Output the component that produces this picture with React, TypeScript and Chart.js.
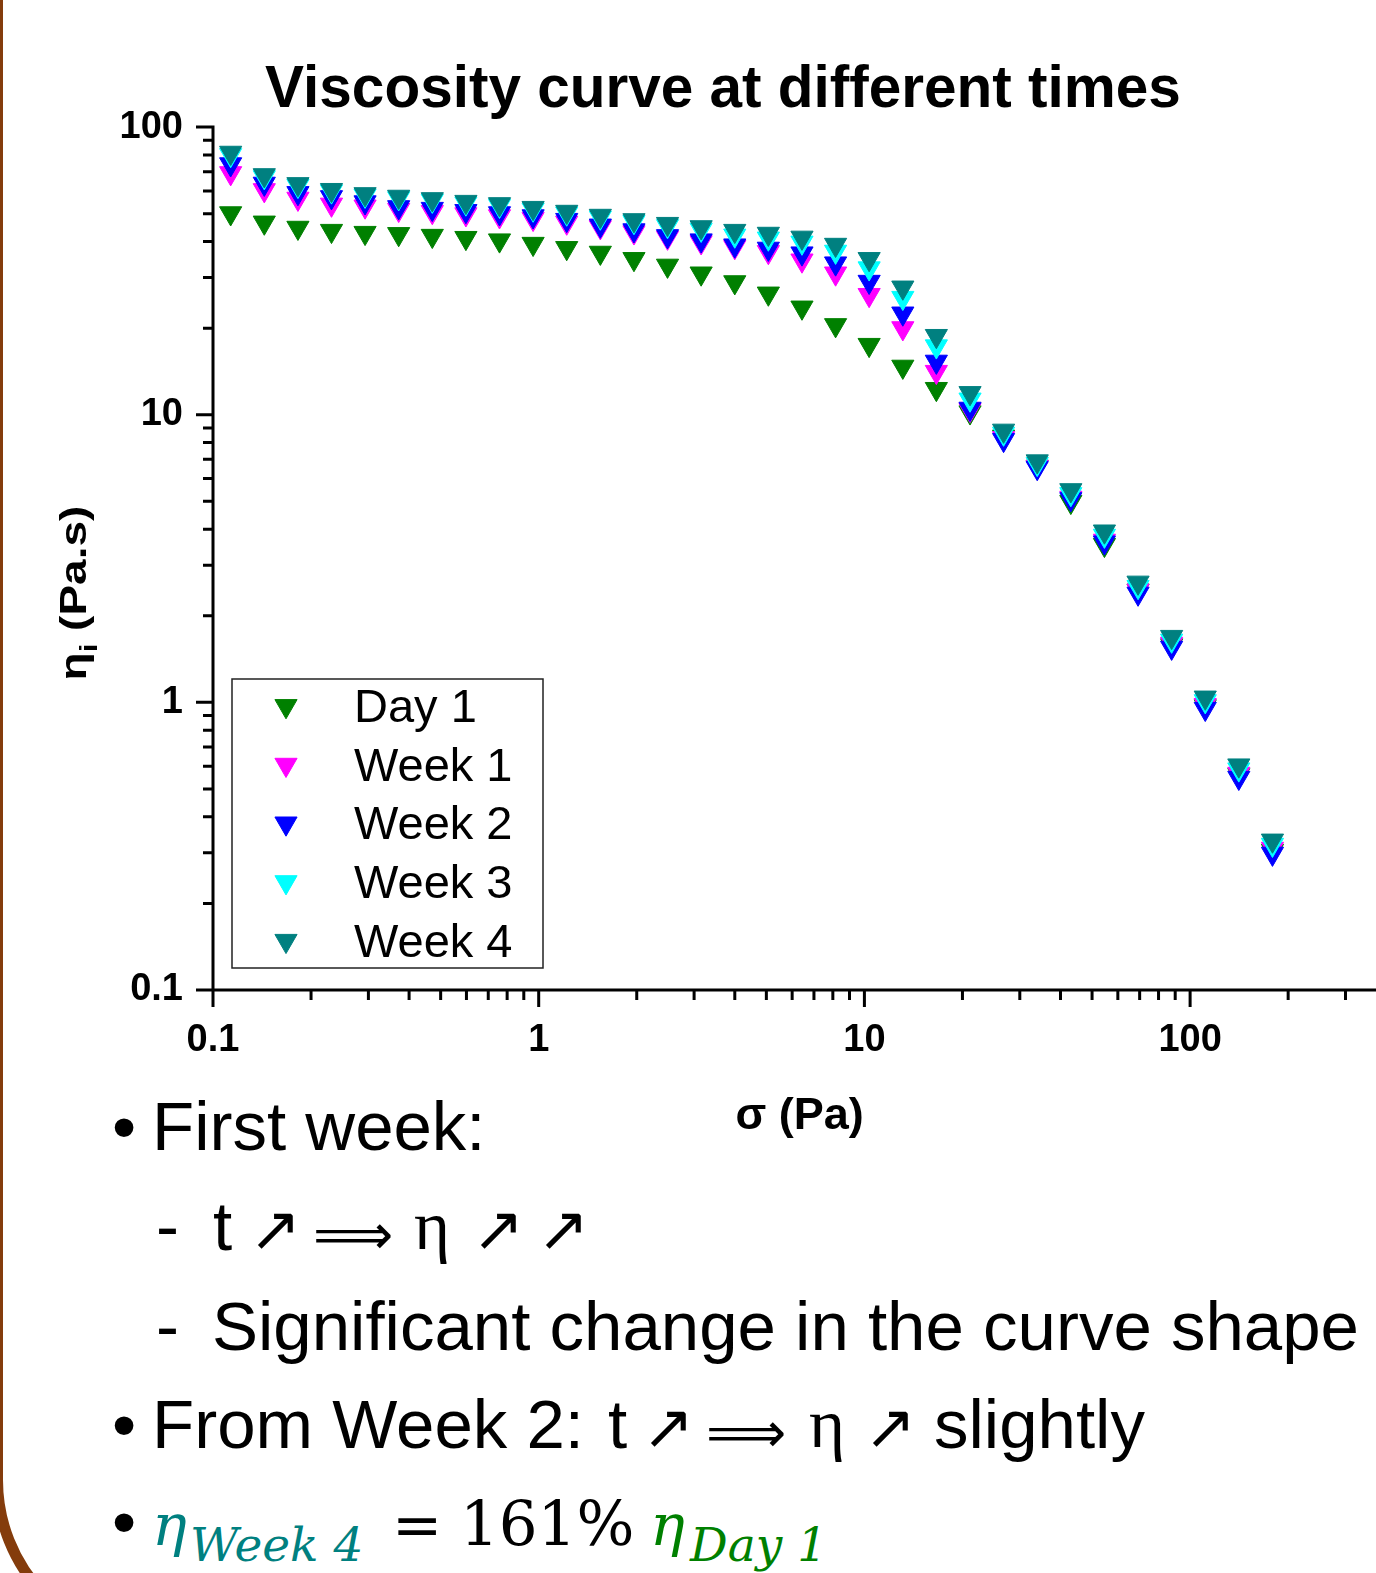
import React, { useEffect, useRef } from 'react';
import Chart from 'chart.js/auto';

const SANS = "'Liberation Sans', Arial, Helvetica, sans-serif";
const SERIF = "'Liberation Serif', 'Times New Roman', serif";
const MATH = "'DejaVu Serif', 'Liberation Serif', serif";
const SYM = "'DejaVu Sans', sans-serif";

const chartTitle = 'Viscosity curve at different times';
const xAxisTitle = 'σ (Pa)';
const yTitleMain = 'η';
const yTitleSub = 'i';
const yTitleUnit = ' (Pa.s)';

const seriesLabels = ['Day 1', 'Week 1', 'Week 2', 'Week 3', 'Week 4'];
const seriesColors = ['#008000', '#FF00FF', '#0000FF', '#00FFFF', '#008080'];

// shear stress sigma (Pa)
const stress = [0.1133, 0.1437, 0.1823, 0.2311, 0.293, 0.3716, 0.4713, 0.5977, 0.758, 0.9612, 1.219, 1.546, 1.961, 2.486, 3.153, 3.999, 5.071, 6.432, 8.157, 10.34, 13.12, 16.63, 21.1, 26.75, 33.93, 43.03, 54.57, 69.21, 87.76, 111.3, 141.1, 179.0];

// viscosity (Pa.s)
const day1 = [50.2, 46.6, 44.7, 43.6, 42.9, 42.5, 41.9, 41.2, 40.4, 39.3, 38.0, 36.6, 34.8, 33.0, 31.0, 28.9, 26.4, 23.6, 20.5, 17.5, 14.7, 12.3, 10.2, 8.4, 6.6, 4.98, 3.53, 2.45, 1.58, 0.97, 0.56, 0.305];
const week1 = [69.2, 60.4, 56.4, 53.8, 53.0, 51.6, 50.7, 49.8, 49.0, 48.0, 46.6, 44.9, 43.1, 41.3, 39.8, 38.3, 36.8, 34.4, 31.0, 26.1, 20.0, 14.1, 10.4, 8.3, 6.6, 5.15, 3.65, 2.45, 1.6, 0.98, 0.565, 0.31];
const week2 = [74.3, 63.6, 59.0, 57.1, 54.8, 52.7, 52.0, 51.1, 50.2, 49.0, 47.6, 45.5, 43.8, 41.8, 40.4, 38.8, 37.8, 36.4, 33.6, 29.0, 22.5, 15.3, 10.5, 8.18, 6.53, 5.09, 3.6, 2.39, 1.55, 0.95, 0.547, 0.298];
const week3 = [80.0, 67.0, 62.5, 59.8, 57.8, 56.6, 55.5, 54.3, 53.3, 51.7, 50.1, 48.5, 46.8, 45.3, 44.0, 42.0, 41.0, 39.7, 36.9, 32.3, 25.5, 17.3, 11.3, 8.6, 6.75, 5.3, 3.8, 2.52, 1.64, 1.01, 0.585, 0.32];
const week4 = [81.5, 68.1, 63.4, 60.5, 58.5, 57.3, 56.2, 55.0, 54.0, 52.4, 50.8, 49.2, 47.5, 46.1, 44.9, 43.6, 42.6, 41.3, 39.0, 34.8, 27.7, 18.8, 11.9, 8.81, 6.89, 5.47, 3.93, 2.61, 1.69, 1.04, 0.604, 0.331];

const seriesValues = [day1, week1, week2, week3, week4];

const xMajorTicks = [0.1, 1, 10, 100];
const xTickLabels = ['0.1', '1', '10', '100'];
const xMinorTicks = [0.2, 0.3, 0.4, 0.5, 0.6, 0.7, 0.8, 0.9, 2, 3, 4, 5, 6, 7, 8, 9, 20, 30, 40, 50, 60, 70, 80, 90, 200, 300, 400];
const yMajorTicks = [0.1, 1, 10, 100];
const yTickLabels = ['0.1', '1', '10', '100'];
const yMinorTicks = [0.2, 0.3, 0.4, 0.5, 0.6, 0.7, 0.8, 0.9, 2, 3, 4, 5, 6, 7, 8, 9, 20, 30, 40, 50, 60, 70, 80, 90];

const MARKER_R = 12.8;

function drawDownTriangle(ctx: CanvasRenderingContext2D, cx: number, cy: number, r: number, color: string) {
  const h = (r * Math.sqrt(3)) / 2;
  ctx.beginPath();
  ctx.moveTo(cx, cy + r);
  ctx.lineTo(cx - h, cy - r / 2);
  ctx.lineTo(cx + h, cy - r / 2);
  ctx.closePath();
  ctx.fillStyle = color;
  ctx.fill();
  ctx.lineWidth = 1;
  ctx.strokeStyle = color;
  ctx.stroke();
}

const axesPlugin = {
  id: 'originAxes',
  afterDraw(chart: any) {
    const { ctx, chartArea: a, scales } = chart;
    const xs = scales.x;
    const ys = scales.y;
    ctx.save();
    ctx.strokeStyle = '#000';
    ctx.lineWidth = 3;
    ctx.lineCap = 'butt';
    ctx.beginPath();
    ctx.moveTo(a.left, a.top - 1.5);
    ctx.lineTo(a.left, a.bottom + 1.5);
    ctx.moveTo(a.left - 1.5, a.bottom);
    ctx.lineTo(a.right, a.bottom);
    yMajorTicks.forEach((v) => {
      const p = ys.getPixelForValue(v);
      ctx.moveTo(a.left - 17, p);
      ctx.lineTo(a.left, p);
    });
    yMinorTicks.forEach((v) => {
      const p = ys.getPixelForValue(v);
      ctx.moveTo(a.left - 10, p);
      ctx.lineTo(a.left, p);
    });
    xMajorTicks.forEach((v) => {
      const p = xs.getPixelForValue(v);
      ctx.moveTo(p, a.bottom);
      ctx.lineTo(p, a.bottom + 17);
    });
    xMinorTicks.forEach((v) => {
      const p = xs.getPixelForValue(v);
      ctx.moveTo(p, a.bottom);
      ctx.lineTo(p, a.bottom + 10);
    });
    ctx.stroke();
    ctx.restore();
  },
};

const boxLegendPlugin = {
  id: 'boxLegend',
  afterDraw(chart: any) {
    const { ctx, chartArea: a } = chart;
    const x0 = a.left + 19;
    const y0 = a.bottom - 311;
    const w = 311;
    const h = 289;
    ctx.save();
    ctx.lineWidth = 1.5;
    ctx.strokeStyle = '#222';
    ctx.strokeRect(x0, y0, w, h);
    chart.data.datasets.forEach((ds: any, i: number) => {
      const cy = y0 + 27 + i * 58.7;
      drawDownTriangle(ctx, x0 + 54, cy, MARKER_R, ds.backgroundColor);
      ctx.font = `47px ${SANS}`;
      ctx.fillStyle = '#000';
      ctx.textAlign = 'left';
      ctx.textBaseline = 'middle';
      ctx.fillText(ds.label, x0 + 122, cy + 3);
    });
    ctx.restore();
  },
};

const yTitlePlugin = {
  id: 'yTitle',
  afterDraw(chart: any) {
    const { ctx } = chart;
    ctx.save();
    ctx.translate(86, 593);
    ctx.rotate(-Math.PI / 2);
    ctx.scale(1, 0.8);
    ctx.fillStyle = '#000';
    ctx.textBaseline = 'alphabetic';
    ctx.textAlign = 'left';
    const big = `bold 46px ${SANS}`;
    const small = `bold 31px ${SANS}`;
    ctx.font = big;
    const w1 = ctx.measureText(yTitleMain).width;
    const w3 = ctx.measureText(yTitleUnit).width;
    ctx.font = small;
    const w2 = ctx.measureText(yTitleSub).width;
    const total = w1 + w2 + w3;
    let x = -total / 2;
    ctx.font = big;
    ctx.fillText(yTitleMain, x, 0);
    x += w1;
    ctx.font = small;
    ctx.fillText(yTitleSub, x, 14);
    x += w2;
    ctx.font = big;
    ctx.fillText(yTitleUnit, x, 0);
    ctx.restore();
  },
};

const tickFont = { family: SANS, size: 38, weight: 'bold' as const };

type PieceProps = {
  x: number;
  b: number;
  size: number;
  text: string;
  font?: string;
  ratio?: number;
  color?: string;
  italic?: boolean;
};

function Piece({ x, b, size, text, font = SANS, ratio = 0.8467, color = '#000', italic = false }: PieceProps) {
  return (
    <div
      style={{
        position: 'absolute',
        left: x,
        top: b - ratio * size,
        fontSize: size,
        lineHeight: `${size}px`,
        fontFamily: font,
        fontStyle: italic ? 'italic' : 'normal',
        color,
        whiteSpace: 'nowrap',
      }}
    >
      {text}
    </div>
  );
}

const SR = 0.8375; // Liberation Serif baseline ratio
const YR = 0.846; // DejaVu baseline ratio

export default function App() {
  const ref = useRef<HTMLCanvasElement>(null);

  useEffect(() => {
    const canvas = ref.current;
    if (!canvas) return;
    const order = [5, 4, 3, 2, 1];
    const chart = new Chart(canvas, {
      type: 'scatter',
      data: {
        datasets: seriesLabels.map((label, i) => ({
          label,
          data: stress.map((x, j) => ({ x, y: seriesValues[i][j] })),
          backgroundColor: seriesColors[i],
          borderColor: seriesColors[i],
          borderWidth: 1,
          pointStyle: 'triangle',
          rotation: 180,
          pointRadius: MARKER_R,
          pointHoverRadius: MARKER_R,
          showLine: false,
          order: order[i],
          clip: false as any,
        })),
      },
      options: {
        responsive: false,
        animation: false,
        devicePixelRatio: 1,
        events: [],
        layout: { padding: { left: 56, right: 10, top: 0, bottom: 10 } },
        plugins: {
          legend: { display: false },
          tooltip: { enabled: false },
          title: {
            display: true,
            text: chartTitle,
            color: '#000',
            font: { family: SANS, size: 58.5, weight: 'bold' },
            padding: { top: 55.9, bottom: 1.0 },
          },
        },
        scales: {
          x: {
            type: 'logarithmic',
            min: 0.1,
            max: 400,
            grid: { display: false, drawTicks: false },
            border: { display: false },
            afterBuildTicks: (s: any) => {
              s.ticks = xMajorTicks.map((v) => ({ value: v }));
            },
            afterFit: (s: any) => {
              s.height = 154;
            },
            ticks: {
              autoSkip: false,
              maxRotation: 0,
              padding: 28,
              color: '#000',
              font: tickFont,
              callback: (v: any) => {
                const idx = xMajorTicks.findIndex((m) => Math.abs(m - Number(v)) < 1e-9 * Math.max(1, m));
                return idx >= 0 ? xTickLabels[idx] : '';
              },
            },
            title: {
              display: true,
              text: xAxisTitle,
              color: '#000',
              font: { family: SANS, size: 45, weight: 'bold' },
              padding: { top: 0, bottom: 0 },
            },
          },
          y: {
            type: 'logarithmic',
            min: 0.1,
            max: 100,
            grid: { display: false, drawTicks: false },
            border: { display: false },
            afterBuildTicks: (s: any) => {
              s.ticks = yMajorTicks.map((v) => ({ value: v }));
            },
            afterFit: (s: any) => {
              s.width = 157;
            },
            ticks: {
              autoSkip: false,
              padding: 30,
              color: '#000',
              font: tickFont,
              callback: (v: any) => {
                const idx = yMajorTicks.findIndex((m) => Math.abs(m - Number(v)) < 1e-9 * Math.max(1, m));
                return idx >= 0 ? yTickLabels[idx] : '';
              },
            },
          },
        },
      } as any,
      plugins: [axesPlugin, boxLegendPlugin, yTitlePlugin],
    });
    return () => chart.destroy();
  }, []);

  const teal = '#008080';
  const green = '#008000';

  return (
    <div
      style={{
        position: 'absolute',
        left: 0,
        top: 0,
        width: 1376,
        height: 1573,
        overflow: 'hidden',
        background: '#fff',
        fontFamily: SANS,
        color: '#000',
      }}
    >
      <canvas ref={ref} width={1400} height={1154} style={{ position: 'absolute', left: 0, top: 0, width: 1400, height: 1154 }} />

      {/* Line 1 */}
      <Piece x={112} b={1150} size={69} text="•" />
      <Piece x={152} b={1150} size={69} text="First week:" />

      {/* Line 2 */}
      <Piece x={156} b={1250} size={69} text="-" />
      <Piece x={213} b={1250} size={69} text="t" />
      <Piece x={249} b={1250} size={62} font={SYM} ratio={YR} text="↗" />
      <Piece x={313} b={1254} size={56} font={SYM} ratio={YR} text="⟹" />
      <Piece x={414} b={1250} size={69} font={SERIF} ratio={SR} text="η" />
      <Piece x={472} b={1250} size={62} font={SYM} ratio={YR} text="↗" />
      <Piece x={537} b={1250} size={62} font={SYM} ratio={YR} text="↗" />

      {/* Line 3 */}
      <Piece x={156} b={1350} size={69} text="-" />
      <Piece x={212} b={1350} size={69} text="Significant change in the curve shape" />

      {/* Line 4 */}
      <Piece x={112} b={1448} size={69} text="•" />
      <Piece x={152} b={1448} size={69} text="From Week 2:" />
      <Piece x={608} b={1448} size={69} text="t" />
      <Piece x={642} b={1448} size={62} font={SYM} ratio={YR} text="↗" />
      <Piece x={706} b={1452} size={56} font={SYM} ratio={YR} text="⟹" />
      <Piece x={809} b={1448} size={69} font={SERIF} ratio={SR} text="η" />
      <Piece x={864} b={1448} size={62} font={SYM} ratio={YR} text="↗" />
      <Piece x={934} b={1448} size={69} text="slightly" />

      {/* Line 5 */}
      <Piece x={112} b={1545} size={69} text="•" />
      <Piece x={152} b={1545} size={58} font={MATH} ratio={YR} italic color={teal} text="η" />
      <Piece x={190} b={1561} size={47} font={MATH} ratio={YR} italic color={teal} text="Week 4" />
      <Piece x={392} b={1545} size={60} font={MATH} ratio={YR} text="=" />
      <Piece x={460} b={1545} size={61} font={MATH} ratio={YR} text="161%" />
      <Piece x={650} b={1545} size={58} font={MATH} ratio={YR} italic color={green} text="η" />
      <Piece x={690} b={1561} size={47} font={MATH} ratio={YR} italic color={green} text="Day 1" />

      {/* slide frame */}
      <div
        style={{
          position: 'absolute',
          left: -8,
          top: -300,
          width: 3000,
          height: 1950,
          boxSizing: 'border-box',
          border: '11px solid #843C0C',
          borderRadius: 170,
          pointerEvents: 'none',
        }}
      />
    </div>
  );
}
